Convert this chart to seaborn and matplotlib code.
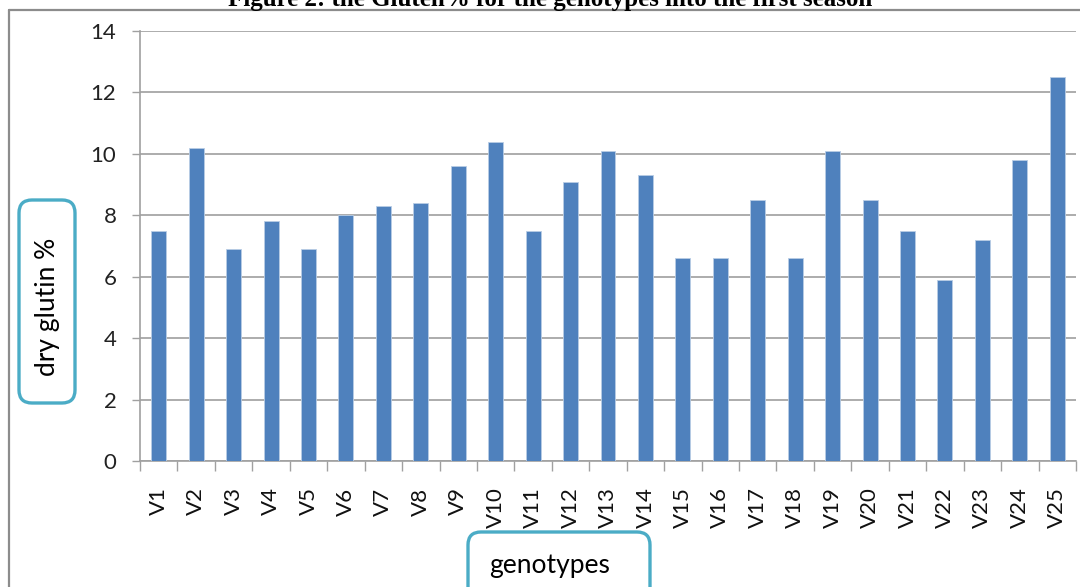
import matplotlib
matplotlib.use("Agg")
import matplotlib.pyplot as plt
import seaborn as sns
import pandas as pd
from matplotlib.patches import FancyBboxPatch
from matplotlib.lines import Line2D

genotypes = [f"V{i}" for i in range(1, 26)]
dry_gluten = [7.5, 10.2, 6.9, 7.8, 6.9, 8.0, 8.3, 8.4, 9.6, 10.4,
              7.5, 9.1, 10.1, 9.3, 6.6, 6.6, 8.5, 6.6, 10.1, 8.5,
              7.5, 5.9, 7.2, 9.8, 12.5]
y_ticks = [0, 2, 4, 6, 8, 10, 12, 14]

title_text = "Figure 2: the Gluten% for the genotypes into the first season"
y_label = "dry glutin %"
x_label = "genotypes"

df = pd.DataFrame({"genotype": genotypes, "gluten": dry_gluten})

sns.set_theme(style="white")
plt.rcParams['font.family'] = ['Lato', 'DejaVu Sans']

W, H = 1080, 587
fig = plt.figure(figsize=(W / 100, H / 100), dpi=100)
ax = fig.add_axes([140 / W, 1 - 461 / H, (1076 - 140) / W, (461 - 31) / H])

sns.barplot(data=df, x="genotype", y="gluten", color="#4F81BD", width=0.4,
            edgecolor="#B9CDE5", linewidth=0.6, saturation=1, ax=ax, zorder=3)

ax.set_ylim(0, 14)
ax.set_xlim(-0.5, len(genotypes) - 0.5)
ax.set_yticks(y_ticks)
ax.yaxis.grid(True, color="#A6A6A6", linewidth=1.3, zorder=0)
ax.set_axisbelow(True)
ax.set_xlabel("")
ax.set_ylabel("")

for s in ["top", "right"]:
    ax.spines[s].set_visible(False)
for s in ["left", "bottom"]:
    ax.spines[s].set_color("#A0A0A0")
    ax.spines[s].set_linewidth(1.2)

ax.tick_params(axis="y", left=True, length=6, width=1.0, color="#A0A0A0",
               labelsize=16, labelcolor="#222222", pad=11)
ax.tick_params(axis="x", bottom=False, labelsize=16, labelcolor="#111111",
               labelrotation=90, pad=13)
ax.set_xticks(range(len(genotypes)))
ax.set_xticklabels(genotypes)
ax.set_xticks([i - 0.5 for i in range(len(genotypes) + 1)], minor=True)
ax.tick_params(axis="x", which="minor", bottom=True, length=7, width=1.0,
               color="#A0A0A0")

# figure frame lines (left and top)
fig.add_artist(Line2D([9 / W, 9 / W], [0, 1 - 10 / H], color="#8C8C8C", lw=1.6,
                      transform=fig.transFigure))
fig.add_artist(Line2D([9 / W, 1], [1 - 10 / H, 1 - 10 / H], color="#8C8C8C", lw=1.6,
                      transform=fig.transFigure))

# clipped title (cut off at the top edge, as in the reference)
fig.text(550 / W, 1 - 6 / H, title_text, ha="center", va="baseline",
         fontsize=18, fontweight="bold", family="Liberation Serif", color="black")

# y label box
fig.add_artist(FancyBboxPatch((19 / W, 1 - 403 / H), (75 - 19) / W, (403 - 200) / H,
                              boxstyle="round,pad=0,rounding_size=0.012",
                              transform=fig.transFigure, facecolor="white",
                              edgecolor="#4BACC6", linewidth=2.4,
                              mutation_aspect=W / H))
fig.text(47 / W, 1 - 307 / H, y_label, rotation=90, ha="center", va="center",
         fontsize=19, color="black")

# x label box
fig.add_artist(FancyBboxPatch((468 / W, 1 - 600 / H), (650 - 468) / W, (600 - 532) / H,
                              boxstyle="round,pad=0,rounding_size=0.012",
                              transform=fig.transFigure, facecolor="white",
                              edgecolor="#4BACC6", linewidth=2.4,
                              mutation_aspect=W / H))
fig.text(550 / W, 1 - 566 / H, x_label, ha="center", va="center",
         fontsize=19, color="black")

fig.savefig("out.png", dpi=100)
